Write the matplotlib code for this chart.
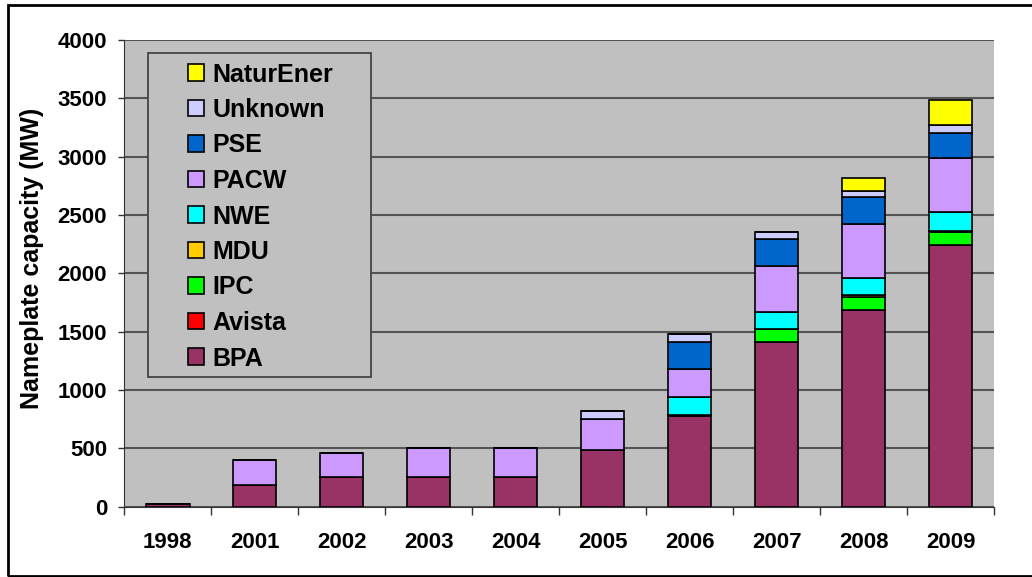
import numpy as np
import matplotlib
matplotlib.use("Agg")
import matplotlib.pyplot as plt
from matplotlib.patches import Rectangle

years = ["1998", "2001", "2002", "2003", "2004", "2005", "2006", "2007", "2008", "2009"]

# MW per utility, bottom to top of each stack
bpa = [25, 190, 255, 255, 255, 483, 778, 1409, 1683, 2243]
avista = [0, 0, 0, 0, 0, 5, 5, 0, 0, 0]
ipc = [0, 0, 0, 0, 0, 0, 0, 111, 112, 114]
mdu = [0, 0, 0, 0, 0, 0, 0, 0, 22, 10]
nwe = [0, 0, 0, 0, 0, 0, 158, 151, 141, 156]
pacw = [0, 208, 208, 251, 251, 260, 240, 389, 465, 463]
pse = [0, 0, 0, 0, 0, 0, 234, 232, 231, 220]
unknown = [0, 0, 0, 0, 0, 68, 66, 65, 55, 63]
naturener = [0, 0, 0, 0, 0, 0, 0, 0, 111, 214]

series = [
    ("BPA", bpa, "#993366"),
    ("Avista", avista, "#FF0000"),
    ("IPC", ipc, "#00FF00"),
    ("MDU", mdu, "#FFCC00"),
    ("NWE", nwe, "#00FFFF"),
    ("PACW", pacw, "#CC99FF"),
    ("PSE", pse, "#0066CC"),
    ("Unknown", unknown, "#CCCCFF"),
    ("NaturEner", naturener, "#FFFF00"),
]

plt.rcParams['font.family'] = ['Liberation Sans', 'DejaVu Sans']
plt.rcParams['font.weight'] = 'bold'

W, H = 1032, 577
fig = plt.figure(figsize=(W / 100, H / 100), dpi=100)

# outer chart frame
fig.patches.append(Rectangle((8 / W, 1 - 576 / H), 1.2, (576 - 5) / H,
                             transform=fig.transFigure, fill=False,
                             edgecolor="black", linewidth=2, zorder=0))

ax = fig.add_axes([124.3 / W, 1 - 506.7 / H, (994 - 124.3) / W, (506.7 - 40) / H])
ax.set_facecolor("#C0C0C0")

x = np.arange(len(years))
bottom = np.zeros(len(years))
handles = []
for name, vals, col in series:
    vals = np.array(vals, dtype=float)
    b = ax.bar(x, vals, 0.5, bottom=bottom, color=col, edgecolor="black",
               linewidth=1.2, label=name, zorder=3)
    handles.append(b)
    bottom += vals

ax.set_ylim(0, 4000)
ax.set_xlim(-0.5, len(years) - 0.5)
ax.set_yticks(np.arange(0, 4001, 500))
ax.yaxis.grid(True, color="#555555", linewidth=1.5, zorder=1)
ax.set_axisbelow(True)

ax.set_xticks(x)
ax.set_xticklabels(years, fontsize=16, fontweight="bold")
ax.set_xticks(np.arange(-0.5, len(years)), minor=True)
ax.tick_params(axis="x", which="major", length=0, pad=18)
ax.tick_params(axis="x", which="minor", length=5.5, width=1, color="#333333")
ax.tick_params(axis="y", length=4.3, width=1, color="#333333", labelsize=16, pad=8)
for lab in ax.get_yticklabels():
    lab.set_fontweight("bold")

for s in ["top", "right"]:
    ax.spines[s].set_visible(False)
ax.spines["left"].set_color("#333333")
ax.spines["bottom"].set_color("#333333")

ax.set_ylabel("Nameplate capacity (MW)", fontsize=18, fontweight="bold")
ax.yaxis.set_label_coords(44 / W, 1 - 258 / H, transform=fig.transFigure)

# legend box
fig.patches.append(Rectangle((147.5 / W, 1 - 377 / H), (371 - 147.5) / W, (377 - 53) / H,
                             transform=fig.transFigure, facecolor="#C0C0C0",
                             edgecolor="#444444", linewidth=1.3, zorder=5))
leg = fig.legend(handles[::-1], [s[0] for s in series][::-1], loc="upper left",
                 bbox_to_anchor=(188 / W, 1 - 62.5 / H), frameon=False,
                 prop={"size": 18, "weight": "bold"},
                 handlelength=0.64, handleheight=0.64, handletextpad=0.35,
                 labelspacing=0.46, borderpad=0, borderaxespad=0)
leg.set_zorder(6)

fig.savefig("out.png", dpi=100)
